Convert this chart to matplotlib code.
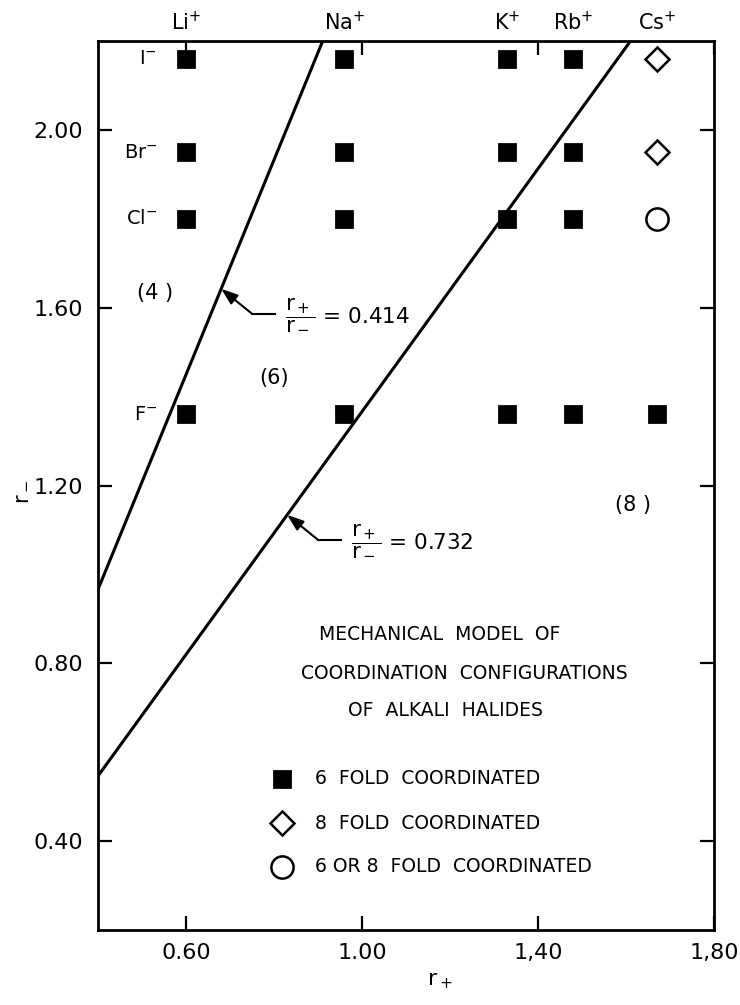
import matplotlib
matplotlib.use("Agg")
import matplotlib.pyplot as plt
import numpy as np

plt.rcParams["font.family"] = ["DejaVu Sans"]
plt.rcParams["mathtext.fontset"] = "dejavusans"
plt.rcParams["mathtext.default"] = "regular"

# ionic radii
cations = ["Li", "Na", "K", "Rb", "Cs"]
r_plus = [0.60, 0.96, 1.33, 1.48, 1.67]
anions = ["F", "Cl", "Br", "I"]
r_minus = [1.36, 1.80, 1.95, 2.16]

# coordination per anion row, one entry per cation
coordination = {
    "F": ["6", "6", "6", "6", "6"],
    "Cl": ["6", "6", "6", "6", "6/8"],
    "Br": ["6", "6", "6", "6", "8"],
    "I": ["6", "6", "6", "6", "8"],
}

# radius ratio limits r+/r-
ratios = [0.414, 0.732]
ratio_labels = ["0.414", "0.732"]
arrow_tip_x = [0.68, 0.83]

region_labels = ["(4 )", "(6)", "(8 )"]
region_pos = [(0.53, 1.632), (0.80, 1.442), (1.616, 1.156)]

x_ticks = [0.60, 1.00, 1.40, 1.80]
x_tick_labels = ["0.60", "1.00", "1,40", "1,80"]
y_ticks = [0.40, 0.80, 1.20, 1.60, 2.00]
y_tick_labels = ["0.40", "0.80", "1.20", "1.60", "2.00"]

title_lines = ["MECHANICAL  MODEL  OF",
               "COORDINATION  CONFIGURATIONS",
               "OF  ALKALI  HALIDES"]
legend_labels = ["6  FOLD  COORDINATED",
                 "8  FOLD  COORDINATED",
                 "6 OR 8  FOLD  COORDINATED"]

styles = {
    "6": dict(marker="s", markersize=12, markerfacecolor="black",
              markeredgecolor="black", markeredgewidth=2),
    "8": dict(marker="D", markersize=12, markerfacecolor="white",
              markeredgecolor="black", markeredgewidth=1.8),
    "6/8": dict(marker="o", markersize=16, markerfacecolor="white",
                markeredgecolor="black", markeredgewidth=1.8),
}

fig = plt.figure(figsize=(7.4, 10.05), dpi=100)
ax = fig.add_axes([0.1324, 0.0746, 0.8324, 0.8846])
ax.set_xlim(0.40, 1.80)
ax.set_ylim(0.20, 2.20)

# data markers
for kind in ["6", "8", "6/8"]:
    xs, ys = [], []
    for anion, rm in zip(anions, r_minus):
        for rp, c in zip(r_plus, coordination[anion]):
            if c == kind:
                xs.append(rp)
                ys.append(rm)
    ax.plot(xs, ys, linestyle="none", zorder=3, **styles[kind])

# radius ratio lines r- = r+ / ratio
xline = np.array(ax.get_xlim())
for ratio in ratios:
    ax.plot(xline, xline / ratio, color="black", lw=2.2)

# arrows + labels for the ratio lines
for ratio, lab, tx in zip(ratios, ratio_labels, arrow_tip_x):
    ty = tx / ratio
    ex, ey = tx + 0.07, ty - 0.056
    hx = ex + 0.052
    ax.annotate("", xy=(tx, ty), xytext=(ex, ey),
                arrowprops=dict(arrowstyle="-|>,head_length=0.5,head_width=0.18",
                                mutation_scale=20, color="black", lw=1.5,
                                shrinkA=0, shrinkB=0))
    ax.plot([ex, hx], [ey, ey], color="black", lw=1.5)
    ax.text(hx + 0.022, ey, r"$\dfrac{r_+}{r_-}$ = " + lab, fontsize=15.5,
            ha="left", va="center")

# region labels
for lab, (x, y) in zip(region_labels, region_pos):
    ax.text(x, y, lab, fontsize=15, ha="center", va="center")

# cation labels above the frame
for name, rp in zip(cations, r_plus):
    ax.text(rp, 1.021, name + r"$^{+}$", fontsize=15, ha="center", va="center",
            transform=ax.get_xaxis_transform())

# anion labels left of the Li column
for name, rm in zip(anions, r_minus):
    ax.text(0.535, rm, name + r"$^{-}$", fontsize=14, ha="right", va="center")

# title block
title_x = [0.359, 0.330, 0.406]
title_y = [0.332, 0.289, 0.247]
for line, x, y in zip(title_lines, title_x, title_y):
    ax.text(x, y, line, fontsize=13.5, ha="left", va="center",
            transform=ax.transAxes)

# legend keys
leg_y = [0.170, 0.120, 0.071]
for kind, lab, y in zip(["6", "8", "6/8"], legend_labels, leg_y):
    ax.plot([0.299], [y], transform=ax.transAxes, clip_on=False, **styles[kind])
    ax.text(0.352, y, lab, fontsize=13.5, ha="left", va="center",
            transform=ax.transAxes)

ax.set_xticks(x_ticks)
ax.set_xticklabels(x_tick_labels)
ax.set_yticks(y_ticks)
ax.set_yticklabels(y_tick_labels)
ax.tick_params(direction="in", top=True, right=True, length=10, width=1.6,
               labelsize=16)
ax.tick_params(axis="y", pad=11)
ax.tick_params(axis="x", pad=9)
for s in ax.spines.values():
    s.set_linewidth(2)

ax.set_xlabel(r"$r_+$", fontsize=16)
ax.xaxis.set_label_coords(0.555, -0.046)
ax.set_ylabel(r"$r_-$", fontsize=15)
ax.yaxis.set_label_coords(-0.11, 0.493)

fig.savefig("out.png", dpi=100)
